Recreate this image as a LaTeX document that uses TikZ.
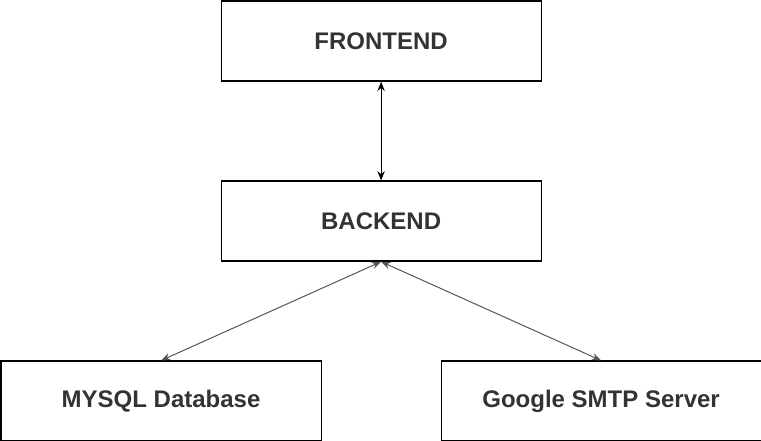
\documentclass[tikz,border=0pt]{standalone}
\usepackage{fontspec}
\setmainfont{Liberation Sans}
\usetikzlibrary{arrows.meta}
\definecolor{txt}{HTML}{333333}
\definecolor{ln}{HTML}{555555}
\begin{document}
\begin{tikzpicture}[x=0.75pt,y=-0.75pt,
  box/.style={draw=black,line width=0.9pt,minimum width=240pt,minimum height=60pt,inner sep=0pt,
    font=\fontsize{18}{20}\selectfont\bfseries,text=txt,anchor=north west},
  conn/.style={line width=0.75pt,{Stealth[length=7pt,width=5.5pt]}-{Stealth[length=7pt,width=5.5pt]}}]
\useasboundingbox (0,0) rectangle (761,441);
\node[box] (fe) at (220.5,0.5) {FRONTEND};
\node[box] (be) at (220.5,180.5) {BACKEND};
\node[box] (db) at (0.5,360.5) {MYSQL Database};
\node[box] (gs) at (440.5,360.5) {Google SMTP Server};
\draw[conn,draw=black] (fe.south) -- (be.north);
\draw[conn,draw=ln] (be.south) -- (db.north);
\draw[conn,draw=ln] (be.south) -- (gs.north);
\end{tikzpicture}
\end{document}
